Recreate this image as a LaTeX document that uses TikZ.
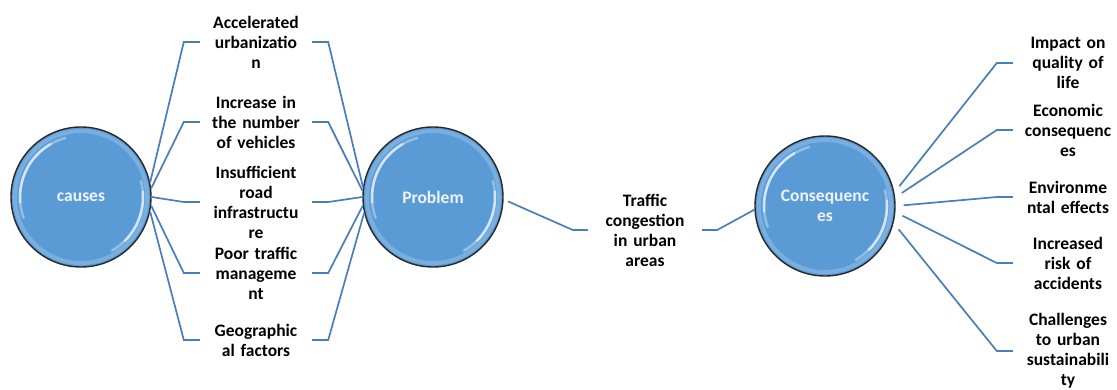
\documentclass[tikz,border=0pt]{standalone}
\usepackage{fontspec}
\setmainfont{Carlito}
\usetikzlibrary{positioning}
\definecolor{bubblefill}{RGB}{91,155,213}
\definecolor{bubblerim}{RGB}{150,194,235}
\definecolor{bubbleedge}{RGB}{40,40,40}
\definecolor{bubbletext}{RGB}{238,243,249}
\definecolor{linkblue}{RGB}{74,126,187}
\tikzset{
  bubble/.style={circle,minimum size=140pt,inner sep=0pt,fill=bubblefill,draw=bubbleedge,
    line width=1.4pt,text=bubbletext,align=center,font=\bfseries\fontsize{17.5}{20}\selectfont},
  tag/.style={align=center,text width=108pt,inner sep=2pt,font=\bfseries\fontsize{17.5}{20}\selectfont},
  link/.style={draw=linkblue,line width=1.7pt},
  gloss/.style={white,line width=2.5pt,line cap=round},
}
\begin{document}
\begin{tikzpicture}[x=1pt,y=1pt]
  \useasboundingbox (0,0) rectangle (1117,389);
  \node [bubble] (causes) at (81,192) {causes};
  \node [bubble] (problem) at (433,192) {Problem};
  \node [bubble] (cons) at (825,183) {Consequenc\\es};
  % glossy rim and highlights
  \foreach \b in {causes,problem,cons} {
    \draw [bubblerim,opacity=.5,line width=4pt] (\b.center) circle (66pt);
    \draw [gloss,opacity=.35] (\b.center) ++(105:61pt) arc (105:200:61pt);
    \draw [gloss,opacity=.6] (\b.center) ++(120:61pt) arc (120:185:61pt);
    \draw [gloss,opacity=.35] (\b.center) ++(-60:62pt) arc (-60:15:62pt);
    \draw [gloss,opacity=.6] (\b.center) ++(-45:62pt) arc (-45:5:62pt);
  }
  \node [tag] (urban) at (256,347) {Accelerated\\urbanizatio\\n};
  \node [tag] (vehicles) at (256,267) {Increase in\\the number\\of vehicles};
  \node [tag] (roads) at (256,187) {Insufficient\\road\\infrastructu\\re};
  \node [tag] (manage) at (256,116) {Poor traffic\\manageme\\nt};
  \node [tag] (geo) at (256,49) {Geographic\\al factors};
  \foreach \n/\a/\b in {urban/12/172,vehicles/7/175,roads/0/180,manage/-7/187,geo/-12/193} {
    \draw [link] (causes.\a) -- ([xshift=-16pt]\n.west) -- (\n.west);
    \draw [link] (\n.east) -- ([xshift=16pt]\n.east) -- (problem.\b);
  }
  \node [tag,text width=110pt] (jam) at (645,159) {Traffic\\congestion\\in urban\\areas};
  \draw [link,shorten <=5pt] (problem.-2) -- ([xshift=-15pt]jam.west) -- (jam.west);
  \draw [link] (jam.east) -- ([xshift=15pt]jam.east) -- (cons.183);
  \node [tag,text width=106pt] (life) at (1068,326) {Impact on\\quality of\\life};
  \node [tag,text width=106pt] (econ) at (1068,259) {Economic\\consequenc\\es};
  \node [tag,text width=106pt] (env) at (1068,192) {Environme\\ntal effects};
  \node [tag,text width=106pt] (risk) at (1068,126) {Increased\\risk of\\accidents};
  \node [tag,text width=106pt] (sust) at (1068,38) {Challenges\\to urban\\sustainabili\\ty};
  \foreach \n/\a in {life/11,econ/7,env/0,risk/-5,sust/-14}
    \draw [link,shorten <=8pt] (cons.\a) -- ([xshift=-16pt]\n.west) -- (\n.west);
\end{tikzpicture}
\end{document}
